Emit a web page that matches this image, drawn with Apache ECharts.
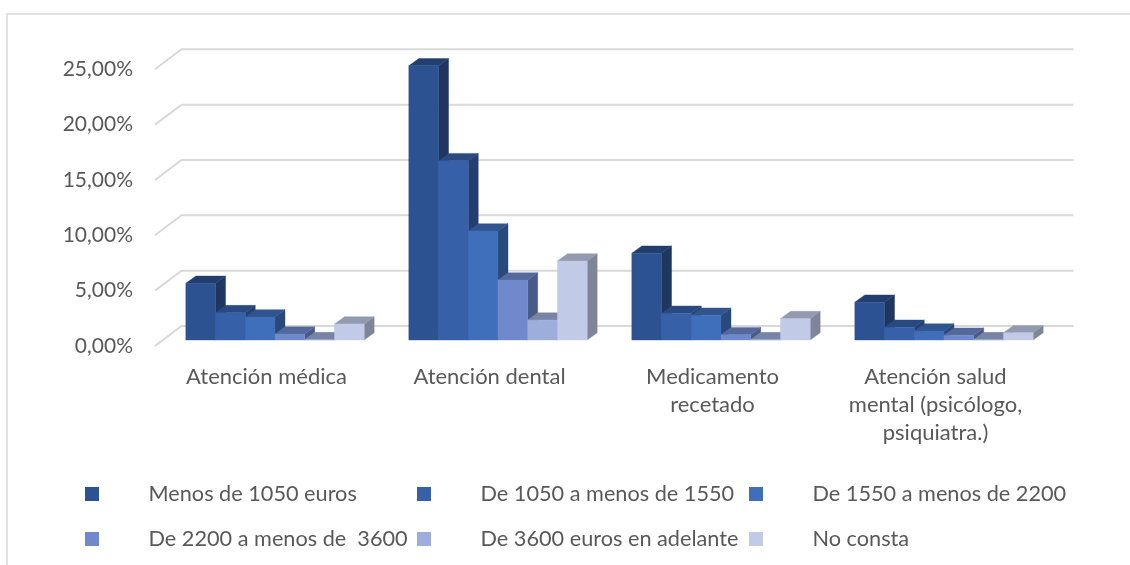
<!DOCTYPE html>
<html>
<head>
<meta charset="utf-8">
<style>html,body{margin:0;padding:0;background:#fff}#chart{width:1130px;height:565px}</style>
<script src="https://cdn.jsdelivr.net/npm/echarts@6/dist/echarts.min.js"></script>
</head>
<body>
<div id="chart"></div>
<script>
const categories = ['Atención médica', 'Atención dental', 'Medicamento\nrecetado', 'Atención salud\nmental (psicólogo,\npsiquiatra.)'];
const menos1050 = [5.12, 24.77, 7.84, 3.41];
const de1050a1550 = [2.47, 16.2, 2.41, 1.15];
const de1550a2200 = [2.08, 9.85, 2.23, 0.81];
const de2200a3600 = [0.54, 5.42, 0.48, 0.43];
const de3600 = [0.03, 1.8, 0.03, 0.03];
const noConsta = [1.45, 7.14, 1.93, 0.66];
const yTicks = [0, 5, 10, 15, 20, 25];

const seriesNames = ['Menos de 1050 euros', 'De 1050 a menos de 1550', 'De 1550 a menos de 2200', 'De 2200 a menos de  3600', 'De 3600 euros en adelante', 'No consta'];
const seriesValues = [menos1050, de1050a1550, de1550a2200, de2200a3600, de3600, noConsta];
const faceColors = ['#2d5291', '#3660a8', '#3f6ebb', '#6f89cc', '#9eaedb', '#c1cae6'];
const legendSpots = [[85, 483], [417, 483], [749, 483], [85, 528], [417, 528], [749, 528]];

// Oblique projection of the 3D box: wall depth, bar depth and the bars' offset from the front plane
const WALL_DX = 26.5, WALL_DY = -20;
const BAR_DX = 10, BAR_DY = -7.3;
const BAR_PLANE_DX = 8.5, BAR_PLANE_DY = -6;
const GRID_COLOR = '#d9d9d9', TEXT_COLOR = '#595959', FONT = 'Lato, sans-serif', FONT_SIZE = 22;

// Multiply a hex colour's channels to shade the side and top faces
function shade(hex, k) {
  const n = parseInt(hex.slice(1), 16);
  const c = [n >> 16, (n >> 8) & 255, n & 255].map(v => Math.round(v * k));
  return 'rgb(' + c.join(',') + ')';
}

function renderBar(seriesIndex) {
  return function (params, api) {
    const pos = api.coord([api.value(0), api.value(1)]);
    const base = api.coord([api.value(0), 0]);
    const w = api.size([1, 0])[0] / 7.5;
    const x0 = pos[0] + BAR_PLANE_DX + (seriesIndex - 3) * w;
    const x1 = x0 + w;
    const yT = pos[1] + BAR_PLANE_DY;
    const yB = base[1] + BAR_PLANE_DY;
    const c = faceColors[seriesIndex];
    const poly = (points, fill) => ({ type: 'polygon', shape: { points }, style: { fill, stroke: fill, lineWidth: 0.4 } });
    return {
      type: 'group',
      children: [
        poly([[x1, yT], [x1 + BAR_DX, yT + BAR_DY], [x1 + BAR_DX, yB + BAR_DY], [x1, yB]], shade(c, 0.66)),
        poly([[x0, yT], [x0 + BAR_DX, yT + BAR_DY], [x1 + BAR_DX, yT + BAR_DY], [x1, yT]], shade(c, 0.76)),
        poly([[x0, yT], [x1, yT], [x1, yB], [x0, yB]], c)
      ]
    };
  };
}

// Back wall and side wall rules, one per tick of the value axis
function renderWall(params, api) {
  const y = api.coord([0, api.value(0)])[1];
  const cs = params.coordSys;
  return {
    type: 'polyline',
    shape: { points: [[cs.x, y], [cs.x + WALL_DX, y + WALL_DY], [cs.x + cs.width + WALL_DX, y + WALL_DY]] },
    style: { fill: 'none', stroke: GRID_COLOR, lineWidth: 2 },
    silent: true
  };
}

const chart = echarts.init(document.getElementById('chart'), null, { renderer: 'canvas' });
chart.setOption({
  animation: false,
  backgroundColor: '#fff',
  grid: { left: 155, top: 69.3, width: 892, height: 276.7, containLabel: false },
  xAxis: {
    type: 'category',
    data: categories,
    axisLine: { show: false },
    axisTick: { show: false },
    axisLabel: { interval: 0, margin: 17, color: TEXT_COLOR, fontFamily: FONT, fontSize: FONT_SIZE, lineHeight: 28 }
  },
  yAxis: {
    type: 'value',
    min: 0,
    max: 25,
    interval: 5,
    splitLine: { show: false },
    axisLine: { show: false },
    axisTick: { show: false },
    axisLabel: {
      margin: 22,
      color: TEXT_COLOR,
      fontFamily: FONT,
      fontSize: 21,
      padding: [4, 0, 0, 0],
      formatter: v => v.toFixed(2).replace('.', ',') + '%'
    }
  },
  legend: seriesNames.map((name, i) => ({
    data: [name],
    left: legendSpots[i][0],
    top: legendSpots[i][1],
    padding: 0,
    icon: 'rect',
    itemWidth: 14,
    itemHeight: 14,
    selectedMode: false,
    textStyle: { color: TEXT_COLOR, fontFamily: FONT, fontSize: 21.7, padding: [0, 0, 0, 44.5] }
  })),
  graphic: [{
    type: 'polyline',
    silent: true,
    shape: { points: [[7, 565], [7, 14], [1130, 14]] },
    style: { fill: 'none', stroke: GRID_COLOR, lineWidth: 1.5 }
  }],
  series: [
    { type: 'custom', name: 'walls', data: yTicks.map(v => [v]), renderItem: renderWall, encode: { y: 0 }, silent: true, z: 1 }
  ].concat(seriesNames.map((name, i) => ({
    type: 'custom',
    name,
    itemStyle: { color: faceColors[i] },
    data: seriesValues[i].map((v, c) => [c, v]),
    encode: { x: 0, y: 1 },
    renderItem: renderBar(i),
    z: 2 + i
  })))
});
</script>
</body>
</html>
